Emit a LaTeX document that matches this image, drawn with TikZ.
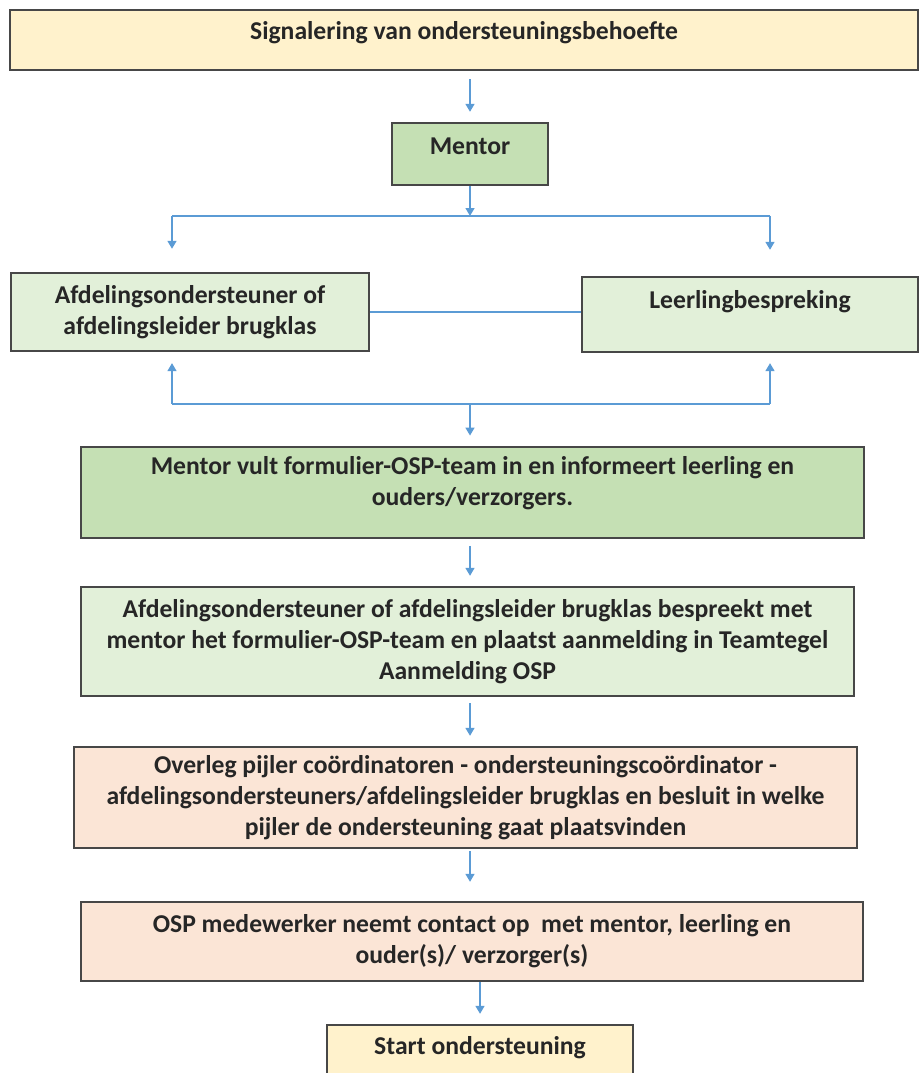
\documentclass[tikz,border=0pt]{standalone}
\usepackage{fontspec}
\setmainfont{Carlito}
\usepackage{xcolor}
\usetikzlibrary{arrows.meta,shadows}

\definecolor{signal}{HTML}{FFF2CC}
\definecolor{mentorgreen}{HTML}{C5E0B4}
\definecolor{palegreen}{HTML}{E2F0D9}
\definecolor{salmon}{HTML}{FBE5D6}
\definecolor{arrowblue}{HTML}{5B9BD5}

\tikzset{
  stap/.style={draw=black!72, line width=1.3pt, inner sep=0pt, align=center,
    font=\fontsize{14.6}{17.6}\selectfont\bfseries, text=black!85,
    drop shadow={shadow xshift=0.6pt, shadow yshift=-0.6pt, opacity=0.3}},
  arr/.style={draw=arrowblue, line width=1pt, -{Triangle[width=5pt,length=4.5pt]}},
  link/.style={draw=arrowblue, line width=1pt},
}

\begin{document}
\begin{tikzpicture}
\useasboundingbox (0,0) rectangle (18.4,21.46);

% top:
\node[stap, fill=signal, minimum width=18.16cm, minimum height=1.2cm, text depth=11pt]
  (signal) at (9.28,20.66) {Signalering van ondersteuningsbehoefte};

\node[stap, fill=mentorgreen, minimum width=3.12cm, minimum height=1.24cm, text depth=9pt]
  (mentor) at (9.4,18.38) {Mentor};

\draw[arr, shorten <=0.16cm, shorten >=0.2cm] (mentor |- signal.south) -- (mentor.north);


% 2nd tier:
\node[stap, fill=palegreen, minimum width=7.16cm, minimum height=1.56cm]
  (afd) at (3.8,15.22) {Afdelingsondersteuner of\\afdelingsleider brugklas};

\node[stap, fill=palegreen, minimum width=6.72cm, minimum height=1.5cm]
  (llb) at (15.0,15.17) {Leerlingbespreking\\ \mbox{}};

\coordinate (fork) at (9.4,17.14);
\coordinate (forkL) at (3.44,17.14);
\coordinate (forkR) at (15.4,17.14);
\coordinate (join) at (9.4,13.38);
\coordinate (joinL) at (3.44,13.38);
\coordinate (joinR) at (15.4,13.38);

\draw[arr] (mentor.south) -- (fork);
\draw[link] (forkL) -- (forkR);
\draw[arr, shorten >=0.46cm] (forkL) -- (forkL |- afd.north);
\draw[arr, shorten >=0.52cm] (forkR) -- (forkR |- llb.north);

\draw[link] (afd.east) -- (afd.east -| llb.west);

\draw[link] (joinL) -- (joinR);
\draw[arr, shorten >=0.22cm] (joinL) -- (joinL |- afd.south);
\draw[arr, shorten >=0.2cm] (joinR) -- (joinR |- llb.south);


% 3rd tier:
\node[stap, fill=mentorgreen, minimum width=15.66cm, minimum height=1.82cm, text depth=13pt]
  (mvult) at (9.45,11.615) {Mentor vult formulier-OSP-team in en informeert leerling en\\ouders/verzorgers.};

\draw[arr, shorten >=0.2cm] (join) -- (join |- mvult.north);

\node[stap, fill=palegreen, minimum width=15.46cm, minimum height=2.18cm]
  (aanm) at (9.35,8.63) {Afdelingsondersteuner of afdelingsleider brugklas bespreekt met\\mentor het formulier-OSP-team en plaatst aanmelding in Teamtegel\\Aanmelding OSP};

\draw[arr, shorten <=0.14cm, shorten >=0.2cm] (mentor |- mvult.south) -- (mentor |- aanm.north);


% bottom tiers:
\node[stap, fill=salmon, minimum width=15.66cm, minimum height=2.02cm]
  (overleg) at (9.31,5.51) {Overleg pijler coördinatoren - ondersteuningscoördinator -\\afdelingsondersteuners/afdelingsleider brugklas en besluit in welke\\pijler de ondersteuning gaat plaatsvinden};

\node[stap, fill=salmon, minimum width=15.64cm, minimum height=1.58cm]
  (osp) at (9.44,2.63) {OSP medewerker neemt contact op~ met mentor, leerling en\\ouder(s)/ verzorger(s)};

\node[stap, fill=signal, minimum width=6.12cm, minimum height=1.2cm, text depth=11pt]
  (start) at (9.6,0.36) {Start ondersteuning};

\draw[arr, shorten <=0.12cm, shorten >=0.2cm] (mentor |- aanm.south) -- (mentor |- overleg.north);
\draw[arr, shorten <=0.04cm, shorten >=0.38cm] (mentor |- overleg.south) -- (mentor |- osp.north);
\draw[arr, shorten >=0.2cm] (start.north |- osp.south) -- (start.north);

\end{tikzpicture}
\end{document}
